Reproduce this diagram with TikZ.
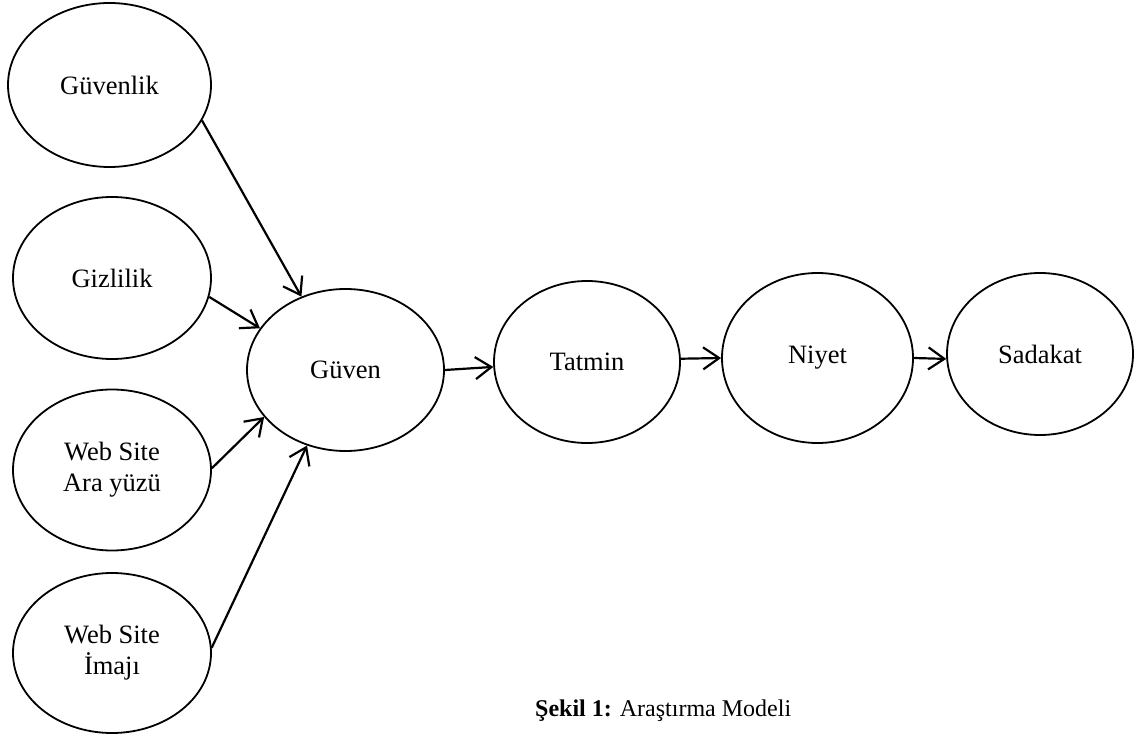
\documentclass[tikz,border=0pt]{standalone}
\usepackage{fontspec}
\setmainfont{Liberation Serif}
\usetikzlibrary{shapes.geometric,arrows.meta}
\begin{document}
\begin{tikzpicture}[x=1pt,y=-1pt,
  oval/.style={draw,ellipse,line width=1.8pt,inner sep=0pt,align=center,
    font=\fontsize{26.5}{31}\selectfont},
  link/.style={line width=2.2pt,-{Straight Barb[length=16pt,width=22pt,line width=2.2pt]}}]
\useasboundingbox (0,0) rectangle (1135,735);
\node[oval,minimum width=203pt,minimum height=164pt] (gv) at (109.5,85) {Güvenlik};
\node[oval,minimum width=198pt,minimum height=162pt] (gz) at (112,278) {Gizlilik};
\node[oval,minimum width=198pt,minimum height=161pt] (ay) at (112,470) {Web Site\\Ara yüzü};
\node[oval,minimum width=198pt,minimum height=160pt] (im) at (112,653) {Web Site\\İmajı};
\node[oval,minimum width=197pt,minimum height=162pt] (gu) at (345.5,370) {Güven};
\node[oval,minimum width=186pt,minimum height=162pt] (ta) at (587,362) {Tatmin};
\node[oval,minimum width=191pt,minimum height=170pt] (ni) at (817.5,358) {Niyet};
\node[oval,minimum width=186pt,minimum height=162pt] (sa) at (1040,354) {Sadakat};
\draw[link] (gv.-21.4) -- (gu.121.8);
\draw[link] (gz.-11.2) -- (gu.154.1);
\draw[link] (ay.1) -- (gu.210.8);
\draw[link] (im.3) -- (gu.243.4);
\draw[link] (gu.0) -- (ta.183.7);
\draw[link] (ta.2) -- (ni.180);
\draw[link] (ni.0) -- (sa.183);
\node[font=\fontsize{24}{28}\selectfont,anchor=base west,inner sep=0pt] (cap) at (535,716) {\textbf{Şekil 1:} Araştırma Modeli};
\end{tikzpicture}
\end{document}
